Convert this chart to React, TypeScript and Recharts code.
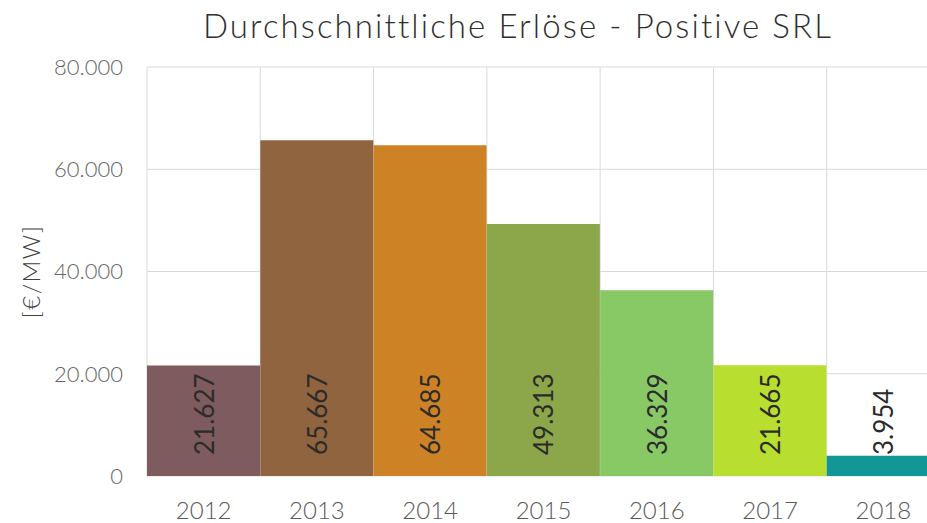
import React from 'react';
import { BarChart, Bar, XAxis, YAxis, CartesianGrid, Cell, LabelList, Label } from 'recharts';

const years = ['2012', '2013', '2014', '2015', '2016', '2017', '2018'];
const revenues = [21627, 65667, 64685, 49313, 36329, 21665, 3954];
const barColors = ['#7E5B5F', '#916440', '#CD8226', '#8CA64A', '#88C966', '#B8DF2F', '#139696'];
const yTicks = [0, 20000, 40000, 60000, 80000];
const title = 'Durchschnittliche Erlöse - Positive SRL';
const yLabel = '[€/MW]';

const data = years.map((y, i) => ({ year: y, value: revenues[i] }));

const FONT = 'Lato, "Open Sans", sans-serif';

function fmt(v: number): string {
  const s = String(Math.round(v));
  return s.replace(/\B(?=(\d{3})+(?!\d))/g, '.');
}

const BarValueLabel = (props: any) => {
  const { x, y, width, height, value } = props;
  const cx = x + width / 2;
  const by = y + height - 21;
  return (
    <text
      x={cx}
      y={by}
      transform={`rotate(-90, ${cx}, ${by})`}
      textAnchor="start"
      dominantBaseline="central"
      fontSize={26}
      fontWeight={400}
      fontFamily={FONT}
      fill="#2b2b2b"
    >
      {fmt(value)}
    </text>
  );
};

const YAxisTitle = (props: any) => {
  const vb = props.viewBox || {};
  const cx = 30;
  const cy = vb.y + vb.height / 2;
  return (
    <text
      x={cx}
      y={cy}
      transform={`rotate(-90, ${cx}, ${cy})`}
      textAnchor="middle"
      dominantBaseline="central"
      fontSize={24}
      fontWeight={300}
      letterSpacing={1.5}
      fontFamily={FONT}
      fill="#404040"
    >
      {yLabel}
    </text>
  );
};

export default function App() {
  return (
    <div style={{ position: 'absolute', left: 0, top: 0, width: 927, height: 523, overflow: 'hidden', background: '#fff' }}>
      <div
        style={{
          position: 'absolute',
          left: 0,
          width: 1036,
          top: 6,
          textAlign: 'center',
          fontFamily: FONT,
          fontSize: 33,
          fontWeight: 300,
          letterSpacing: 2.1,
          color: '#2e2e2e',
          whiteSpace: 'nowrap',
          lineHeight: '38px',
        }}
      >
        {title}
      </div>
      <div style={{ position: 'absolute', left: 0, top: 0 }}>
        <BarChart
          width={950}
          height={523}
          data={data}
          margin={{ top: 67, right: 10, bottom: 0, left: 0 }}
          barCategoryGap={0}
          barGap={0}
        >
          <CartesianGrid
            stroke="#d9d9d9"
            verticalCoordinatesGenerator={({ offset }: any) =>
              years.map((_, i) => offset.left + (i * offset.width) / years.length).concat([offset.left + offset.width])
            }
          />
          <XAxis
            dataKey="year"
            height={47}
            tickLine={false}
            axisLine={false}
            tickSize={0}
            tickMargin={26}
            tick={{ fontSize: 24, fill: '#595959', fontFamily: FONT, fontWeight: 300 }}
            interval={0}
          />
          <YAxis
            width={147}
            domain={[0, 80000]}
            ticks={yTicks}
            tickFormatter={fmt}
            tickLine={false}
            axisLine={false}
            tickSize={0}
            tickMargin={24}
            tick={{ fontSize: 22, fill: '#666666', fontFamily: FONT, fontWeight: 300 }}
          >
            <Label content={<YAxisTitle />} />
          </YAxis>
          <Bar dataKey="value" isAnimationActive={false}>
            {data.map((d, i) => (
              <Cell key={d.year} fill={barColors[i]} />
            ))}
            <LabelList dataKey="value" content={<BarValueLabel />} />
          </Bar>
        </BarChart>
      </div>
    </div>
  );
}
